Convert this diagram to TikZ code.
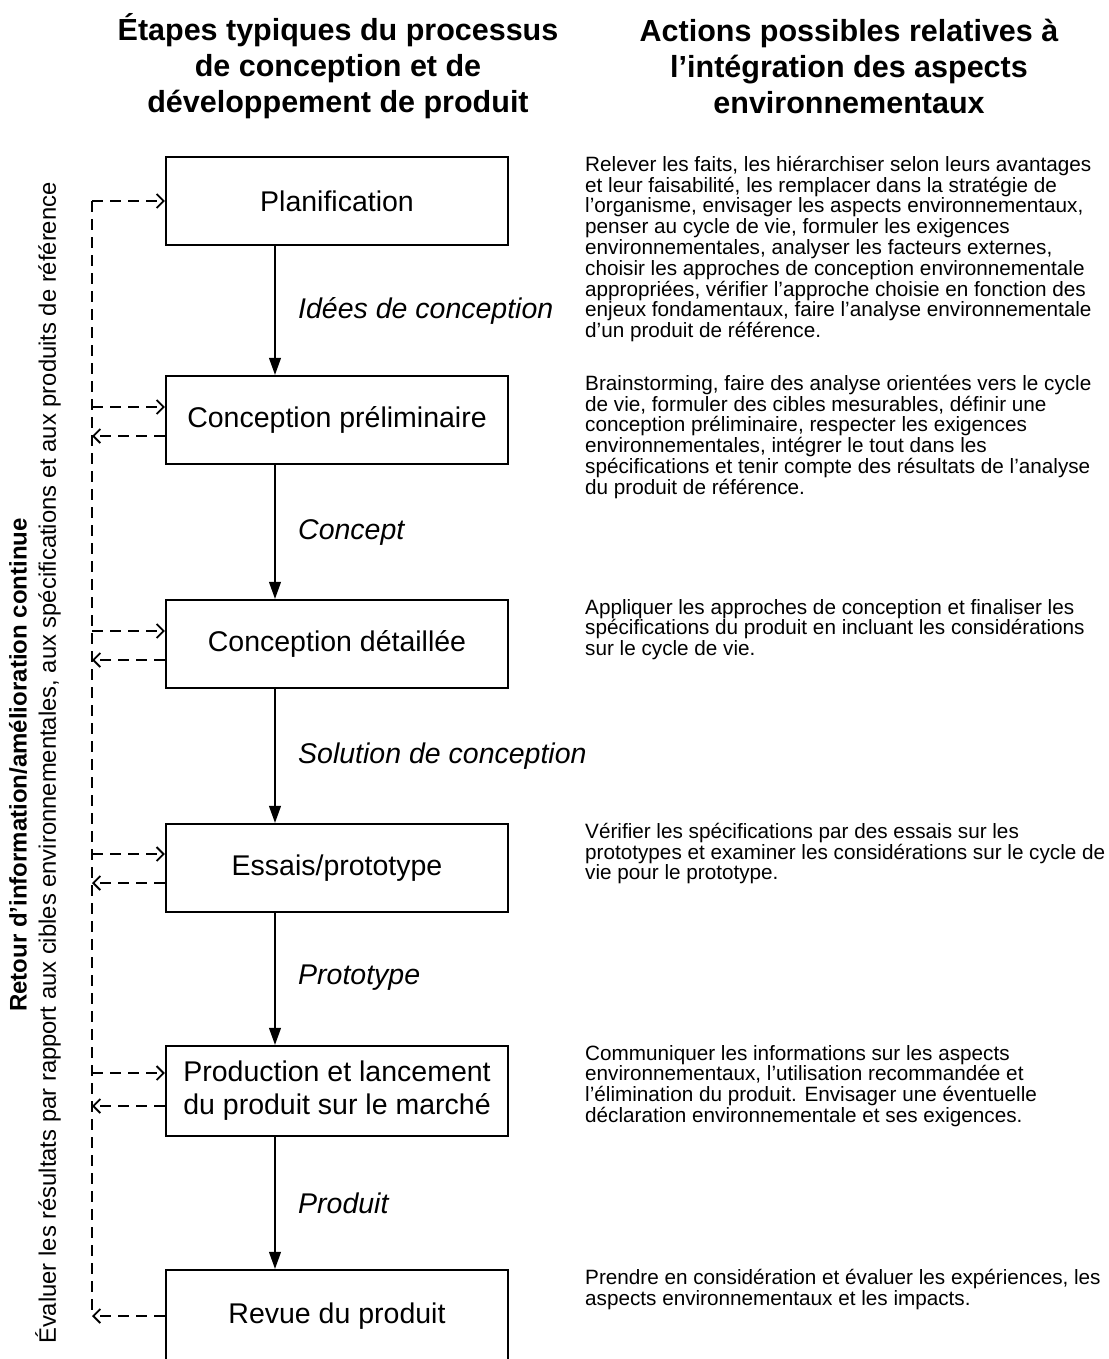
\documentclass[tikz,border=0pt]{standalone}
\usepackage{fontspec}
\setmainfont{Liberation Sans}
\usetikzlibrary{positioning,arrows.meta}
\newcommand\tightlines{\lineskiplimit=-30pt\relax}

\tikzset{
  heading/.style={align=center,inner sep=0pt,font=\fontsize{30.5}{36}\selectfont\bfseries},
  stage/.style={draw,line width=2.4pt,minimum width=342pt,minimum height=88pt,align=center,inner sep=0pt,font=\fontsize{28.5}{33}\selectfont},
  flowlabel/.style={anchor=west,inner sep=0pt,font=\fontsize{28.5}{33}\selectfont\itshape},
  flow/.style={line width=1.1pt,-{Triangle[length=17pt,width=12pt]}},
  fbline/.style={line width=1.8pt,dash pattern=on 11pt off 7pt},
  fbtip/.style={-{Straight Barb[length=7pt,width=14pt]}},
  desc/.style={anchor=north west,align=left,inner sep=0pt,font=\fontsize{20.7}{20.8}\selectfont\tightlines},
  fbtitle/.style={rotate=90,inner sep=0pt,font=\fontsize{24}{28}\selectfont\bfseries},
  fbnote/.style={rotate=90,inner sep=0pt,font=\fontsize{23.8}{28}\selectfont}
}

\begin{document}
\begin{tikzpicture}[x=1pt,y=-1pt]
  \useasboundingbox[fill=white] (0,0) rectangle (1108,1359);

  % column headings
  \node[heading] (hsteps) at (338,66) {Étapes typiques du processus\\de conception et de\\développement de produit};
  \node[heading] (hactions) at (849,66) {Actions possibles relatives à\\l’intégration des aspects\\environnementaux};

  % stages
  \node[stage] (plan) at (337,201) {Planification};
  \node[stage] (prelim) at (337,420) {Conception préliminaire};
  \node[stage] (detail) at (337,644) {Conception détaillée};
  \node[stage] (proto) at (337,868) {Essais/prototype};
  \node[stage,minimum height=90pt] (launch) at (337,1091) {Production et lancement\\du produit sur le marché};
  \node[stage,minimum height=92pt] (review) at (337,1316) {Revue du produit};

  % flow between stages
  \coordinate (ax) at (275,0);
  \foreach \a/\b in {plan/prelim,prelim/detail,detail/proto,proto/launch,launch/review}
    \draw[flow] (\a.south -| ax) -- (\b.north -| ax);

  \node[flowlabel] (lideas) at (298,311) {Idées de conception};
  \node[flowlabel] (lconcept) at (298,533) {Concept};
  \node[flowlabel] (lsolution) at (298,756) {Solution de conception};
  \node[flowlabel] (lproto) at (298,978) {Prototype};
  \node[flowlabel] (lproduct) at (298,1203) {Produit};

  % feedback loop
  \coordinate (fbx) at (92,0);
  \coordinate (fbtop) at (plan.west -| fbx);
  \coordinate (fbbot) at (review.west -| fbx);
  \draw[fbline] (fbtop) -- (fbbot);
  \draw[fbline,fbtip] (fbtop) -- (plan.west);
  \foreach \s/\up/\dn in {prelim/13/16,detail/13/16,proto/14/15,launch/18/15} {
    \coordinate (\s-in) at ([yshift=\up pt]\s.west);
    \coordinate (\s-out) at ([yshift=-\dn pt]\s.west);
    \draw[fbline,fbtip] (\s-in -| fbx) -- (\s-in);
    \draw[fbline,fbtip] (\s-out) -- (\s-out -| fbx);
  }
  \draw[fbline,fbtip] (review.west) -- (fbbot);

  \node[fbtitle] (fbhead) at (18,765) {Retour d'information/amélioration continue};
  \node[fbnote] (fbtext) at (48,763) {Évaluer les résultats par rapport aux cibles environnementales, aux spécifications et aux produits de référence};

  % actions
  \coordinate (dx) at (585,0);
  \node[desc] (dplan) at (plan.north -| dx) {\strut Relever les faits, les hiérarchiser selon leurs avantages\\et leur faisabilité, les remplacer dans la stratégie de\\l'organisme, envisager les aspects environnementaux,\\penser au cycle de vie, formuler les exigences\\environnementales, analyser les facteurs externes,\\choisir les approches de conception environnementale\\appropriées, vérifier l'approche choisie en fonction des\\enjeux fondamentaux, faire l'analyse environnementale\\d'un produit de référence.};
  \node[desc] (dprelim) at (prelim.north -| dx) {\strut Brainstorming, faire des analyse orientées vers le cycle\\de vie, formuler des cibles mesurables, définir une\\conception préliminaire, respecter les exigences\\environnementales, intégrer le tout dans les\\spécifications et tenir compte des résultats de l'analyse\\du produit de référence.};
  \node[desc] (ddetail) at (detail.north -| dx) {\strut Appliquer les approches de conception et finaliser les\\spécifications du produit en incluant les considérations\\sur le cycle de vie.};
  \node[desc] (dproto) at (proto.north -| dx) {\strut Vérifier les spécifications par des essais sur les\\prototypes et examiner les considérations sur le cycle de\\vie pour le prototype.};
  \node[desc] (dlaunch) at (launch.north -| dx) {\strut Communiquer les informations sur les aspects\\environnementaux, l'utilisation recommandée et\\l'élimination du produit. Envisager une éventuelle\\déclaration environnementale et ses exigences.};
  \node[desc] (dreview) at (review.north -| dx) {\strut Prendre en considération et évaluer les expériences, les\\aspects environnementaux et les impacts.};
\end{tikzpicture}
\end{document}
